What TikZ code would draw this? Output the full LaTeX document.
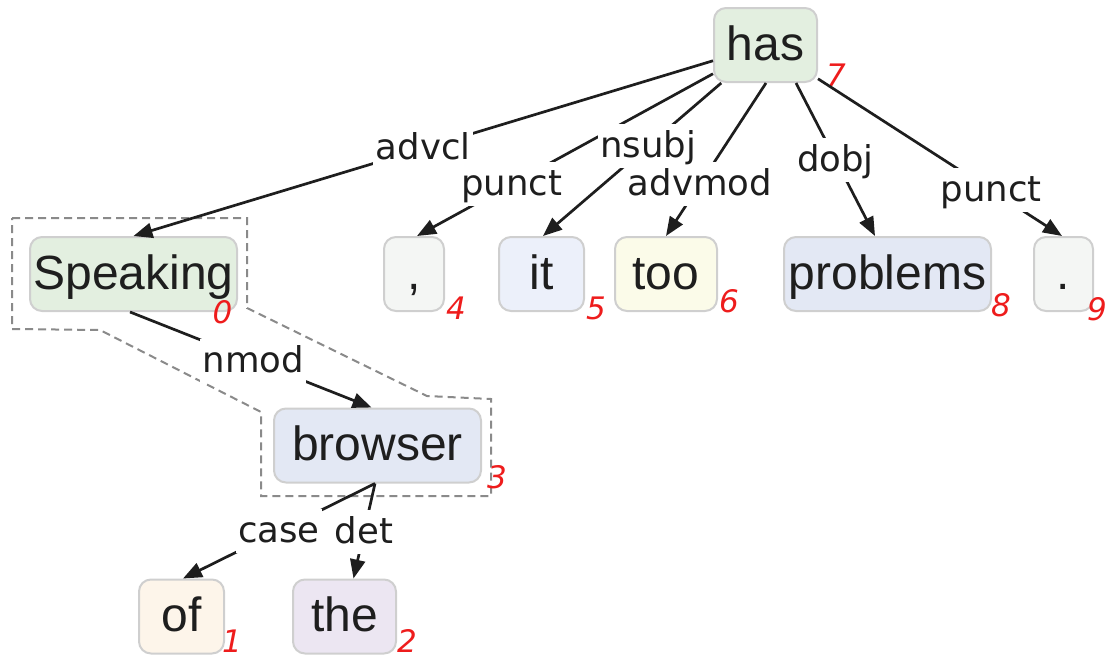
\documentclass[tikz,border=0pt]{standalone}
\usepackage{fontspec}
\setmainfont{Liberation Sans}
\newfontfamily\labfont{DejaVu Sans}
\usetikzlibrary{arrows.meta,calc}
\definecolor{ink}{HTML}{1E1E1E}
\definecolor{boxline}{HTML}{CFCFCF}
\definecolor{idxred}{HTML}{EE1C1C}
\definecolor{hullgray}{HTML}{8A8A8A}
\definecolor{cgreen}{HTML}{E3EFE0}
\definecolor{cblue}{HTML}{E3E8F4}
\definecolor{clblue}{HTML}{ECF0FA}
\definecolor{cyellow}{HTML}{FBFBE9}
\definecolor{cgray}{HTML}{F4F6F4}
\definecolor{corange}{HTML}{FDF5EA}
\definecolor{cpurple}{HTML}{ECE6F2}
\begin{document}
\begin{tikzpicture}[x=1pt,y=-1pt,
  word/.style={draw=boxline, line width=2pt, rounded corners=12pt, minimum height=74pt,
    inner sep=0pt, text height=35pt, text depth=5pt, text=ink,
    font=\fontsize{48}{56}\selectfont},
  dep/.style={line width=2.7pt, draw=ink, -{Triangle[length=19pt,width=15pt]}},
  lab/.style={fill=white, inner sep=2.5pt, text height=31pt, text depth=8pt, text=ink,
    font=\labfont\fontsize{35.5}{42}\selectfont},
  idx/.style={text=idxred, inner sep=0pt, text height=23pt, text depth=0pt,
    font=\labfont\itshape\fontsize{31}{36}\selectfont},
  hull/.style={draw=hullgray, line width=2pt, dash pattern=on 8pt off 5pt}
]
\useasboundingbox (0,0) rectangle (1107,664);

% dashed hull around Speaking / browser
\draw[hull] (12,218) -- (247,218) -- (247,308) -- (427,396) -- (491,399) -- (491,496)
  -- (261,496) -- (261,412) -- (100,330) -- (12,329) -- cycle;

% word nodes
\node[word, fill=cgreen,  minimum width=103pt] (has)      at (765.5,45)  {has};
\node[word, fill=cgreen,  minimum width=207pt] (Speaking) at (133.5,274) {Speaking};
\node[word, fill=cblue,   minimum width=207pt] (browser)  at (377.5,445.5) {browser};
\node[word, fill=corange, minimum width=85pt]  (of)       at (181.5,616.5) {of};
\node[word, fill=cpurple, minimum width=103pt] (the)      at (344.5,616.5) {the};
\node[word, fill=cgray,   minimum width=60pt]  (comma)    at (414,274)   {,};
\node[word, fill=clblue,  minimum width=85pt]  (it)       at (541.5,274) {it};
\node[word, fill=cyellow, minimum width=102pt] (too)      at (666,274)   {too};
\node[word, fill=cblue,   minimum width=207pt] (problems) at (887.5,274) {problems};
\node[word, fill=cgray,   minimum width=59pt]  (period)   at (1063.5,274) {.};

% index numbers
\node[idx] (i0) at (222.5,312) {0};
\node[idx] (i1) at (232,641)   {1};
\node[idx] (i2) at (407,641)   {2};
\node[idx] (i3) at (497,477)   {3};
\node[idx] (i4) at (456,308)   {4};
\node[idx] (i5) at (596,308)   {5};
\node[idx] (i6) at (729,301)   {6};
\node[idx] (i7) at (836,75)    {7};
\node[idx] (i8) at (1001,305)  {8};
\node[idx] (i9) at (1097,309)  {9};

% dependency arcs
\draw[dep] (has) -- node[lab,pos=0.50]{advcl} (Speaking.north);
\draw[dep] (has) -- node[lab,pos=0.68]{punct} ($(comma.north)+(3,0)$);
\draw[dep] ($(has.south)+(0.5,0)$) -- node[lab,pos=0.66]{advmod} (too.north);
\draw[dep] (has) -- node[lab,pos=0.41]{nsubj} ($(it.north)+(1.5,0)$);
\draw[dep] ($(has.south)+(30.5,0)$) -- node[lab,pos=0.50]{dobj} ($(problems.north)+(-12.5,0)$);
\draw[dep] (has) -- node[lab,pos=0.71]{punct} ($(period.north)+(-1.5,0)$);
\draw[dep] ($(Speaking.south)+(-3.5,0)$) -- node[lab,pos=0.51]{nmod} ($(browser.north)+(-6,0)$);
\draw[dep] ($(browser.south)+(-2.5,0)$) -- node[lab,pos=0.50]{case} ($(of.north)+(1.5,0)$);
\draw[dep] ($(browser.south)+(-2.5,0)$) -- node[lab,pos=0.51]{det} ($(the.north)+(9,0)$);
\end{tikzpicture}
\end{document}
